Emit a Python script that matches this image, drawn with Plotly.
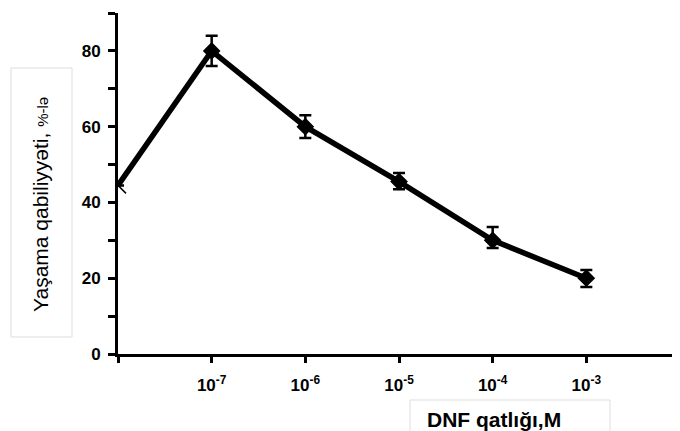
import plotly.graph_objects as go

# Data
x_pos = [0, 1, 2, 3, 4, 5]
survival = [44.5, 80, 60, 45.5, 30, 20]
err_plus = [0, 4, 3, 2.3, 3.5, 2.2]
err_minus = [0, 4, 3, 2, 2, 2.3]
tick_vals = [0, 1, 2, 3, 4, 5, 6]
tick_text = ["", "10<sup>-7</sup>", "10<sup>-6</sup>", "10<sup>-5</sup>", "10<sup>-4</sup>", "10<sup>-3</sup>", ""]
y_label = "Yaşama qabiliyyəti, <span style='font-size:15px'>%-lə</span>"
x_label = "DNF qatlığı,M"

# page body has an 8px margin; compensate so the plot lands where the reference has it
OFF = 8
W, H = 680, 431
L, R, T, B = 118 - OFF, OFF, 13 - OFF, H - 354 + OFF
pw = W - L - R
ph = H - T - B

def px(x):
    return (x - OFF - L) / pw

def py(y):
    return (H - B - (y - OFF)) / ph

fig = go.Figure()
fig.add_trace(go.Scatter(
    x=x_pos, y=survival,
    mode="lines+markers",
    line=dict(color="black", width=5.5),
    marker=dict(symbol=["line-nw", "diamond", "diamond", "diamond", "diamond", "diamond"],
                size=[16, 12, 12, 12, 12, 12],
                color="black", opacity=1,
                line=dict(color="black", width=1.5)),
    error_y=dict(type="data", symmetric=False, array=err_plus, arrayminus=err_minus,
                 color="black", thickness=2.5, width=6),
    cliponaxis=True,
    showlegend=False,
))

fig.update_layout(
    width=W, height=H,
    margin=dict(l=L, r=R, t=T, b=B, autoexpand=False),
    plot_bgcolor="white", paper_bgcolor="white",
    font=dict(family="Liberation Sans, Arial, sans-serif", color="black"),
    xaxis=dict(range=[0, 6], tickvals=tick_vals, ticktext=tick_text,
               showgrid=False, zeroline=False, showline=True, linecolor="black",
               linewidth=3, ticks="outside", ticklen=6, tickwidth=2.5, tickcolor="black",
               automargin=False, ticklabelstandoff=8,
               tickfont=dict(size=17, family="Liberation Sans, Arial, sans-serif", weight="bold")),
    yaxis=dict(range=[0, 90], tickvals=[0, 20, 40, 60, 80],
               showgrid=False, zeroline=False, showline=True, linecolor="black",
               linewidth=3, ticks="outside", ticklen=7, tickwidth=2.5, tickcolor="black",
               automargin=False, ticklabelstandoff=4,
               minor=dict(dtick=10, tick0=0, ticks="outside", ticklen=7, tickwidth=2.5,
                          tickcolor="black", showgrid=False),
               tickfont=dict(size=17, family="Liberation Sans, Arial, sans-serif", weight="bold")),
    shapes=[
        dict(type="rect", xref="paper", yref="paper",
             x0=px(11), x1=px(72), y0=py(337), y1=py(68),
             line=dict(color="#dddddd", width=1)),
        dict(type="rect", xref="paper", yref="paper",
             x0=px(410), x1=px(610), y0=py(445), y1=py(400),
             line=dict(color="#dddddd", width=1)),
    ],
    annotations=[
        dict(text=y_label, xref="paper", yref="paper", x=px(41), y=py(205),
             textangle=-90, showarrow=False, xanchor="center", yanchor="middle",
             font=dict(size=21, family="Liberation Sans, Arial, sans-serif")),
        dict(text="<b>" + x_label + "</b>", xref="paper", yref="paper", x=px(494), y=py(419),
             showarrow=False, xanchor="center", yanchor="middle",
             font=dict(size=21, family="Liberation Sans, Arial, sans-serif")),
    ],
)

fig.write_html("out.html")
